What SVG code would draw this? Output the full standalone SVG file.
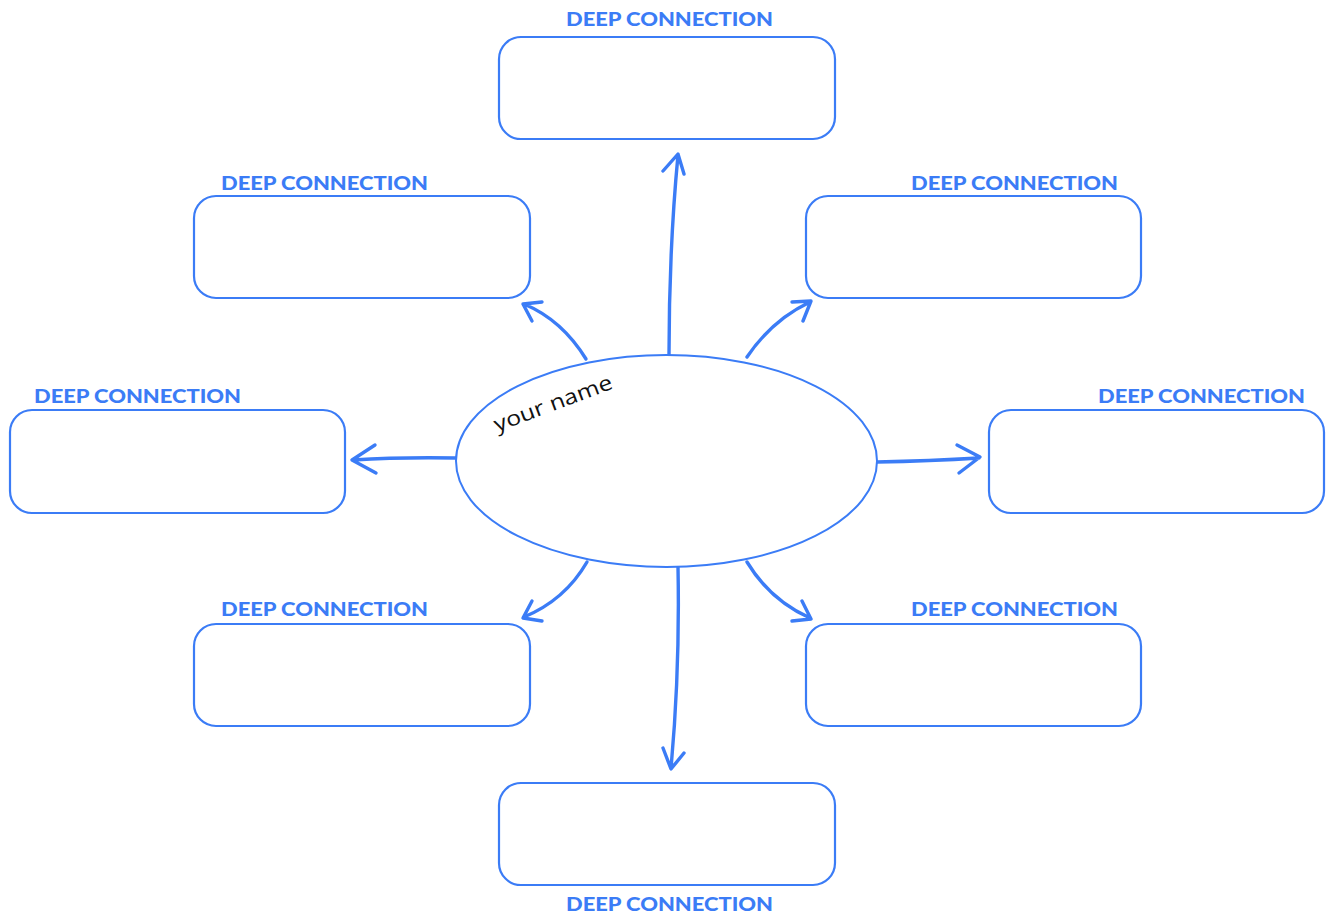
<svg xmlns="http://www.w3.org/2000/svg" width="1327" height="915" viewBox="0 0 1327 915">
<style>
.box{fill:#fff;stroke:#3b7cf6;stroke-width:2.2}
.lbl{font-family:"Lato","Liberation Sans",sans-serif;font-weight:900;font-size:19px;fill:#3b7cf6;text-anchor:middle}
.con{fill:none;stroke:#3b7cf6;stroke-width:3.4;stroke-linecap:round;stroke-linejoin:round}
.center{fill:#fff;stroke:#3b7cf6;stroke-width:2}
.name{font-family:"Open Sans","Liberation Sans",sans-serif;font-weight:400;font-size:21px;fill:#111}
</style>
<rect width="1327" height="915" fill="#fff"/>
<g id="connectors">
<path class="con" d="M669,355 Q669,250 678,155 M663,171 L678,154 L684,174"/>
<path class="con" d="M586,359 Q562,320 524,304 M542,302 L523,304 L532,321"/>
<path class="con" d="M747,357 Q772,320 810,302 M792,302 L811,301 L803,321"/>
<path class="con" d="M456,458 Q400,457 353,460 M375,445 L352,460 L376,473"/>
<path class="con" d="M877,462 Q930,461 979,458 M957,445 L980,457 L959,473"/>
<path class="con" d="M587,562 Q565,600 524,617 M532,601 L523,618 L542,621"/>
<path class="con" d="M747,562 Q770,600 810,618 M802,601 L811,619 L792,621"/>
<path class="con" d="M678,567 Q680,670 671,768 M663,748 L671,769 L684,753"/>
</g>
<g id="center">
<ellipse class="center" cx="666.5" cy="461" rx="210.5" ry="106"/>
<text class="name" transform="translate(497,432) rotate(-20.5)" textLength="125" lengthAdjust="spacingAndGlyphs">your name</text>
</g>
<g id="n-top">
<rect class="box" x="499" y="37" width="336" height="102" rx="22"/>
<text class="lbl" x="669.5" y="26" textLength="207" lengthAdjust="spacingAndGlyphs">DEEP CONNECTION</text>
</g>
<g id="n-upper-left">
<rect class="box" x="194" y="196" width="336" height="102" rx="22"/>
<text class="lbl" x="324.5" y="190" textLength="207" lengthAdjust="spacingAndGlyphs">DEEP CONNECTION</text>
</g>
<g id="n-upper-right">
<rect class="box" x="806" y="196" width="335" height="102" rx="22"/>
<text class="lbl" x="1014.5" y="190" textLength="207" lengthAdjust="spacingAndGlyphs">DEEP CONNECTION</text>
</g>
<g id="n-left">
<rect class="box" x="10" y="410" width="335" height="103" rx="22"/>
<text class="lbl" x="137.5" y="403" textLength="207" lengthAdjust="spacingAndGlyphs">DEEP CONNECTION</text>
</g>
<g id="n-right">
<rect class="box" x="989" y="410" width="335" height="103" rx="22"/>
<text class="lbl" x="1201.5" y="403" textLength="207" lengthAdjust="spacingAndGlyphs">DEEP CONNECTION</text>
</g>
<g id="n-lower-left">
<rect class="box" x="194" y="624" width="336" height="102" rx="22"/>
<text class="lbl" x="324.5" y="616" textLength="207" lengthAdjust="spacingAndGlyphs">DEEP CONNECTION</text>
</g>
<g id="n-lower-right">
<rect class="box" x="806" y="624" width="335" height="102" rx="22"/>
<text class="lbl" x="1014.5" y="616" textLength="207" lengthAdjust="spacingAndGlyphs">DEEP CONNECTION</text>
</g>
<g id="n-bottom">
<rect class="box" x="499" y="783" width="336" height="102" rx="22"/>
<text class="lbl" x="669.5" y="911" textLength="207" lengthAdjust="spacingAndGlyphs">DEEP CONNECTION</text>
</g>
</svg>
